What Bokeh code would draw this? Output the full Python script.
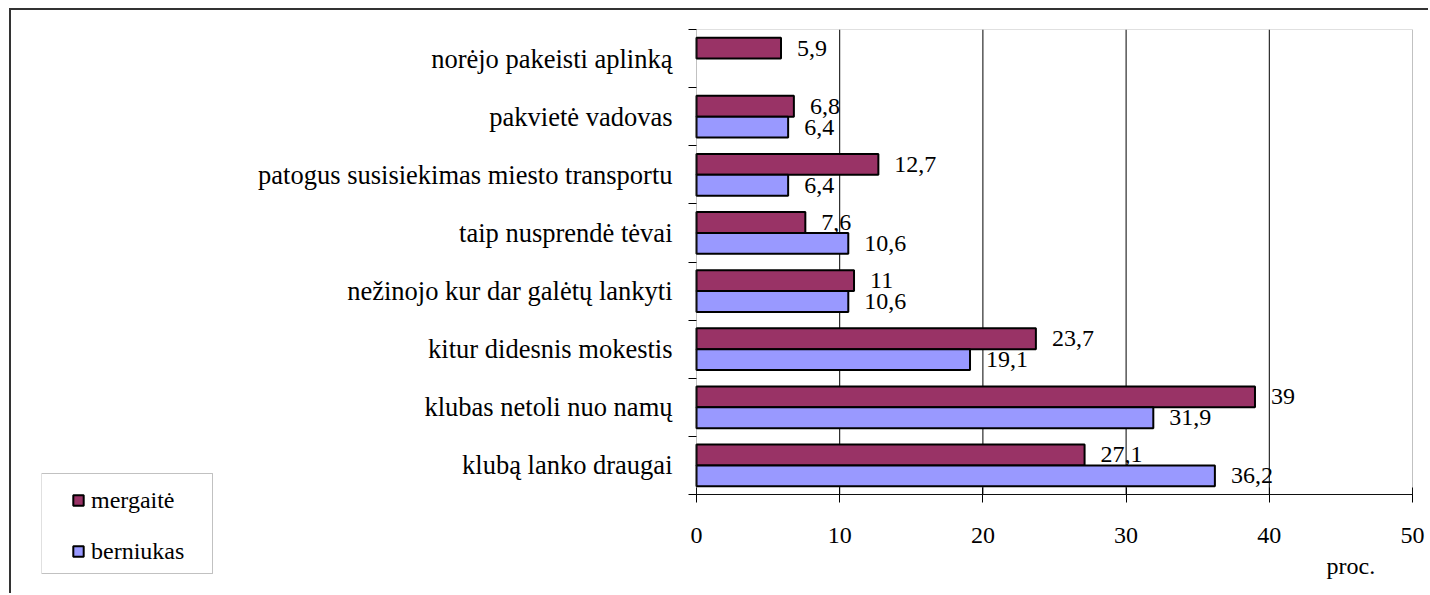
from bokeh.plotting import figure
from bokeh.layouts import row
from bokeh.models import (ColumnDataSource, Range1d, FixedTicker, LabelSet, Legend,
                          LegendItem, Label, BoxAnnotation)
from bokeh.transform import dodge
from bokeh.embed import file_html
from bokeh.resources import INLINE
from bokeh.core.properties import value

# ---- data (bottom to top) ----
categories = [
    "klubą lanko draugai",
    "klubas netoli nuo namų",
    "kitur didesnis mokestis",
    "nežinojo kur dar galėtų lankyti",
    "taip nusprendė tėvai",
    "patogus susisiekimas miesto transportu",
    "pakvietė vadovas",
    "norėjo pakeisti aplinką",
]
mergaite = [27.1, 39, 23.7, 11, 7.6, 12.7, 6.8, 5.9]
berniukas = [36.2, 31.9, 19.1, 10.6, 10.6, 6.4, 6.4, None]
series_names = ["mergaitė", "berniukas"]
series_colors = ["#993366", "#9999FF"]
x_ticks = [0, 10, 20, 30, 40, 50]
x_axis_title = "proc."

FONT = "Liberation Serif"
BORDER = "2px solid #333333"


def fmt(v):
    return ("%g" % v).replace(".", ",")


def make_source(vals):
    pos, val, lab = [], [], []
    for i, v in enumerate(vals):
        if v is None:
            continue
        pos.append(i + 0.5)
        val.append(v)
        lab.append(fmt(v))
    return ColumnDataSource(dict(pos=pos, val=val, lab=lab))


src_m = make_source(mergaite)
src_b = make_source(berniukas)
n = len(categories)

# layout geometry (pixels)
H = 585              # canvas height
TOP = 19             # space above the plot area
AREA_H = 465         # height of the bar area
AREA_W = 716         # width of the bar area (x_ticks[0]..x_ticks[-1])
PAD_L = 8            # frame margin left of the value axis
PAD_R = 16           # frame margin right of the bar area
px_per_cat = AREA_H / n
px_per_unit = AREA_W / (x_ticks[-1] - x_ticks[0])
below_px = H - TOP - AREA_H

# ---------------- main chart ----------------
p = figure(width=1189, height=H, output_backend="svg", toolbar_location=None,
           x_range=Range1d(x_ticks[0] - PAD_L / px_per_unit,
                           x_ticks[-1] + PAD_R / px_per_unit),
           y_range=Range1d(-below_px / px_per_cat, n),
           x_axis_location="above",
           min_border_left=449, min_border_right=0, min_border_top=TOP,
           min_border_bottom=0)
p.styles = {"margin-top": "8px", "border-top": BORDER}
p.background_fill_color = "white"
p.border_fill_color = "white"
p.outline_line_color = None

# vertical grid lines inside the bar area
grid_x = x_ticks[1:-1]
p.segment(x0=grid_x, x1=grid_x, y0=[0] * len(grid_x), y1=[n] * len(grid_x),
          line_color="black", line_width=1)

bar_h = 0.36
off = 0.18
bar_style = dict(left=0, right="val", height=bar_h, line_color="black", line_width=2)
p.hbar(y=dodge("pos", off), source=src_m, fill_color=series_colors[0], **bar_style)
p.hbar(y=dodge("pos", -off), source=src_b, fill_color=series_colors[1], **bar_style)

for src, o in ((src_m, off), (src_b, -off)):
    p.add_layout(LabelSet(x="val", y=dodge("pos", o), text="lab", source=src,
                          x_offset=16, text_baseline="middle", text_align="left",
                          text_font=value(FONT), text_font_size="24px",
                          text_color="black"))

# plot-area border
p.add_layout(BoxAnnotation(left=x_ticks[0], right=x_ticks[-1], bottom=0, top=n,
                           fill_color=None, line_color="#333333", line_width=1))

# x axis, fixed at the bottom of the bar area
p.xaxis.fixed_location = 0
p.xaxis.bounds = (x_ticks[0], x_ticks[-1])
p.xaxis.ticker = FixedTicker(ticks=x_ticks)
p.xaxis.major_tick_in = 8
p.xaxis.major_tick_out = 7
p.xaxis.minor_tick_line_color = None
p.xaxis.axis_line_color = "black"
p.xaxis.major_tick_line_color = "black"
p.xaxis.major_label_text_font = FONT
p.xaxis.major_label_text_font_size = "24px"
p.xaxis.major_label_text_color = "black"
p.xaxis.major_label_standoff = -55

# y axis: labels at category centres, tick marks at category boundaries
centers = [i + 0.5 for i in range(n)]
p.yaxis.bounds = (0, n)
p.yaxis.ticker = FixedTicker(ticks=centers, minor_ticks=list(range(n + 1)))
p.yaxis.major_label_overrides = {c: categories[i] for i, c in enumerate(centers)}
p.yaxis.major_tick_in = 0
p.yaxis.major_tick_out = 0
p.yaxis.minor_tick_in = PAD_L
p.yaxis.minor_tick_out = 0
p.yaxis.minor_tick_line_color = "black"
p.yaxis.axis_line_color = None
p.yaxis.major_label_text_font = FONT
p.yaxis.major_label_text_font_size = "26.5px"
p.yaxis.major_label_text_color = "black"
p.yaxis.major_label_standoff = 16

p.grid.visible = False

p.add_layout(Label(x=45.7, y=-71 / px_per_cat, text=x_axis_title,
                   text_align="center", text_baseline="middle", text_font=FONT,
                   text_font_size="24px", text_color="black"))

# ---------------- legend strip (left part of the chart) ----------------
LG_W = 230
LG_LEFT = 30
lg = figure(width=LG_W, height=H, output_backend="svg", toolbar_location=None,
            x_range=Range1d(0, LG_W - LG_LEFT), y_range=Range1d(0, H - TOP),
            x_axis_type=None, y_axis_type=None,
            min_border_left=LG_LEFT, min_border_right=0, min_border_top=TOP,
            min_border_bottom=0)
lg.styles = {"margin-left": "9px", "margin-top": "8px",
             "border-left": BORDER, "border-top": BORDER}
lg.background_fill_color = "white"
lg.border_fill_color = "white"
lg.outline_line_color = None
lg.grid.visible = False

# legend box (pixel units of this strip)
lg.add_layout(BoxAnnotation(left=0, right=171, bottom=22, top=122,
                            fill_color=None, line_color="#333333", line_width=1))

# legend swatch renderers (their single point lies outside the visible range)
swatch = dict(marker="square", line_color="black", line_width=2)
lr_m = lg.scatter(x=[-10], y=[-10], fill_color=series_colors[0], **swatch)
lr_b = lg.scatter(x=[-10], y=[-10], fill_color=series_colors[1], **swatch)

legend = Legend(items=[LegendItem(label=series_names[0], renderers=[lr_m]),
                       LegendItem(label=series_names[1], renderers=[lr_b])],
                location=(24, 29), orientation="vertical",
                padding=0, margin=0, spacing=21, glyph_width=26, glyph_height=28,
                label_height=30, label_standoff=0,
                label_text_font=FONT, label_text_font_size="24px",
                label_text_color="black", border_line_color=None,
                background_fill_alpha=0)
lg.add_layout(legend)

layout = row(lg, p)
open("out.html", "w").write(file_html(layout, INLINE))
